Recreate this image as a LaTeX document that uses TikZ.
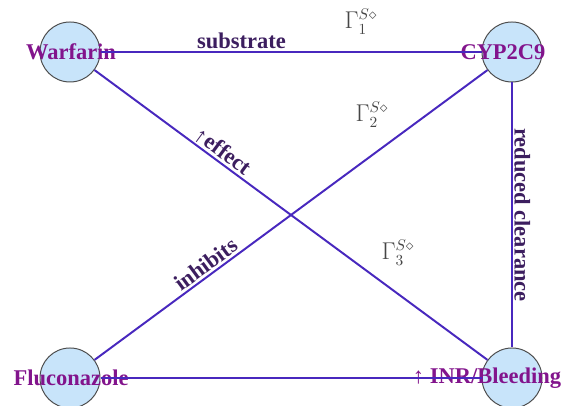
\documentclass[tikz,border=0pt]{standalone}
\usepackage{fontspec}
\setmainfont{Liberation Serif}
\definecolor{drugfill}{RGB}{200,228,250}
\definecolor{edgeblue}{RGB}{72,40,190}
\definecolor{namepurple}{RGB}{130,20,140}
\definecolor{edgeink}{RGB}{60,30,95}
\definecolor{gammaink}{RGB}{70,70,70}
\begin{document}
\begin{tikzpicture}[x=0.025cm,y=0.025cm,
  every node/.style={font=\fontsize{16}{18}\selectfont\bfseries},
  drug/.style={circle,draw=black!70,line width=0.7pt,fill=drugfill,minimum size=1.5cm,inner sep=0pt},
  drugname/.style={text=namepurple,inner sep=0pt},
  link/.style={line width=1.4pt,edgeblue},
  tag/.style={text=edgeink,inner sep=1.5pt},
  gam/.style={text=gammaink,font=\fontsize{16}{18}\selectfont}]
\useasboundingbox (0,0) rectangle (566,406);
% circles
\node[drug] (war) at (70,354) {};
\node[drug] (cyp) at (512,354) {};
\node[drug] (flu) at (70,28) {};
\node[drug] (inr) at (512,28) {};
% names
\node[drugname] (wartxt) at (71,354) {Warfarin};
\node[drugname] (cyptxt) at (503,354) {CYP2C9};
\node[drugname] (flutxt) at (71,28) {Fluconazole};
\node[drugname] (inrtxt) at (487,28) {↑ INR/Bleeding};
% links
\draw[link] (war) -- node[tag,above,pos=0.37] {substrate} (cyp);
\draw[link] (war) -- node[tag,above,sloped,pos=0.31] {↑effect} (inr);
\draw[link] (flu) -- node[tag,above,sloped,pos=0.30] {inhibits} (cyp);
\draw[link] (cyp) -- node[tag,above,sloped,inner sep=1pt] {reduced clearance} (inr);
\draw[link] (flu) -- (inr);
% gammas
\node[gam] (g1) at (361,384) {$\Gamma_1^{S\diamond}$};
\node[gam] (g2) at (372,291) {$\Gamma_2^{S\diamond}$};
\node[gam] (g3) at (398,153) {$\Gamma_3^{S\diamond}$};
\end{tikzpicture}
\end{document}
